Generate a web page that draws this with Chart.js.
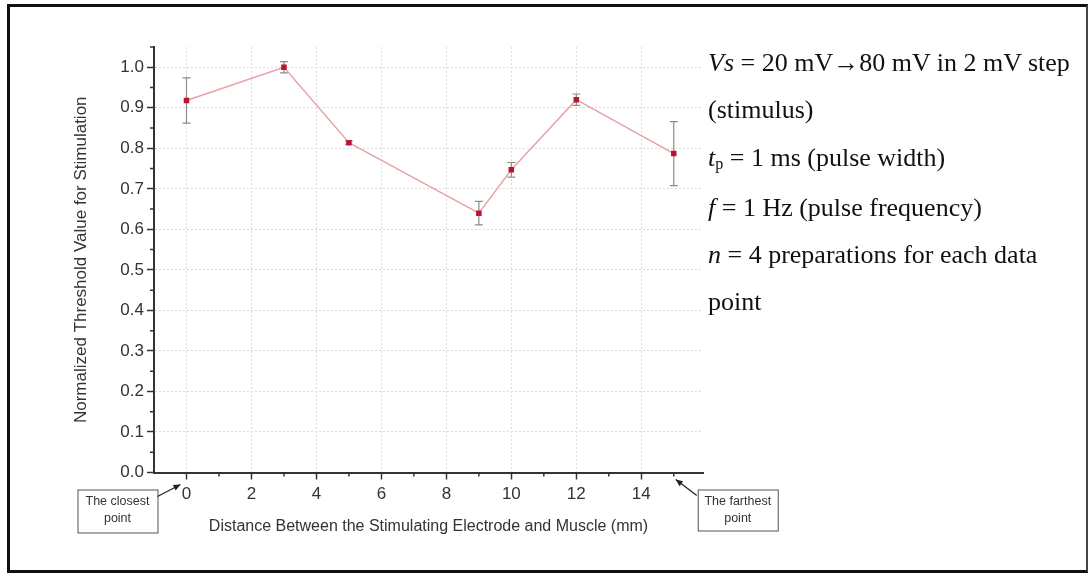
<!DOCTYPE html>
<html>
<head>
<meta charset="utf-8">
<script src="https://cdn.jsdelivr.net/npm/chart.js@4.4.1/dist/chart.umd.min.js"></script>
<style>
  html, body { margin: 0; padding: 0; background: #fff; }
  #wrap { position: relative; width: 1091px; height: 573px; overflow: hidden; background: #fff; }
  #frame {
    position: absolute; left: 7px; top: 4px; width: 1081px; height: 569px;
    box-sizing: border-box; border: 3px solid #111; border-right: 2px solid #444;
    pointer-events: none;
  }
  canvas { position: absolute; left: 0; top: 0; }
  #notes {
    position: absolute; left: 708px; top: 39px;
    font-family: "Liberation Serif", "Times New Roman", serif;
    font-size: 26px; line-height: 47.3px; color: #111; white-space: nowrap;
  }
  #notes .sub { font-size: 0.62em; position: relative; top: 0.2em; }
</style>
</head>
<body>
<div id="wrap">
  <canvas id="chart" width="1091" height="573"></canvas>
  <div id="notes">
    <div><i>Vs</i> = 20 mV→80 mV in 2 mV step</div>
    <div>(stimulus)</div>
    <div><i>t</i><span class="sub">p</span> = 1 ms (pulse width)</div>
    <div><i>f</i> = 1 Hz (pulse frequency)</div>
    <div><i>n</i> = 4 preparations for each data</div>
    <div>point</div>
  </div>
  <div id="frame"></div>
</div>
<script>
// data
const distances = [0, 3, 5, 9, 10, 12, 15];
const thresholds = [0.918, 1.0, 0.814, 0.640, 0.747, 0.920, 0.787];
const errors = [0.056, 0.014, 0.004, 0.029, 0.018, 0.014, 0.079];

// axis ticks
const xTickValues = [0, 2, 4, 6, 8, 10, 12, 14];
const xMinorTicks = [1, 3, 5, 7, 9, 11, 13, 15];
const yTickValues = [0.0, 0.1, 0.2, 0.3, 0.4, 0.5, 0.6, 0.7, 0.8, 0.9, 1.0];
const yMinorTicks = [0.05, 0.15, 0.25, 0.35, 0.45, 0.55, 0.65, 0.75, 0.85, 0.95, 1.05];

// callout boxes
const closestLabel = ['The closest', 'point'];
const farthestLabel = ['The farthest', 'point'];

const FONT = 'Arial, "Liberation Sans", sans-serif';

const errorBars = {
    id: 'errorBars',
    beforeDatasetsDraw(chart) {
        const { ctx, scales: { x, y } } = chart;
        ctx.save();
        ctx.strokeStyle = '#8c8c8c';
        ctx.lineWidth = 1.2;
        distances.forEach((d, i) => {
            const px = x.getPixelForValue(d);
            const top = y.getPixelForValue(thresholds[i] + errors[i]);
            const bot = y.getPixelForValue(thresholds[i] - errors[i]);
            ctx.beginPath();
            ctx.moveTo(px, top); ctx.lineTo(px, bot);
            ctx.moveTo(px - 4, top); ctx.lineTo(px + 4, top);
            ctx.moveTo(px - 4, bot); ctx.lineTo(px + 4, bot);
            ctx.stroke();
        });
        ctx.restore();
    }
};

const minorTicks = {
    id: 'minorTicks',
    afterDraw(chart) {
        const { ctx, chartArea, scales: { x, y } } = chart;
        ctx.save();
        ctx.strokeStyle = '#333';
        ctx.lineWidth = 1.5;
        ctx.beginPath();
        xMinorTicks.forEach(v => {
            const px = x.getPixelForValue(v);
            ctx.moveTo(px, chartArea.bottom);
            ctx.lineTo(px, chartArea.bottom + 4);
        });
        yMinorTicks.forEach(v => {
            const py = y.getPixelForValue(v);
            ctx.moveTo(chartArea.left - 4, py);
            ctx.lineTo(chartArea.left, py);
        });
        ctx.stroke();
        ctx.restore();
    }
};

function drawCallout(ctx, lines, box, tail, tip) {
    ctx.save();
    ctx.fillStyle = '#fff';
    ctx.fillRect(box.x, box.y, box.w, box.h);
    ctx.strokeStyle = '#555';
    ctx.lineWidth = 1;
    ctx.strokeRect(box.x + 0.5, box.y + 0.5, box.w, box.h);
    ctx.fillStyle = '#333';
    ctx.font = '12.5px ' + FONT;
    ctx.textAlign = 'center';
    ctx.textBaseline = 'middle';
    ctx.fillText(lines[0], box.x + box.w / 2, box.y + 12);
    ctx.fillText(lines[1], box.x + box.w / 2, box.y + 29);
    // arrow
    ctx.strokeStyle = '#222';
    ctx.lineWidth = 1.2;
    ctx.beginPath();
    ctx.moveTo(tail.x, tail.y);
    ctx.lineTo(tip.x, tip.y);
    ctx.stroke();
    const ang = Math.atan2(tip.y - tail.y, tip.x - tail.x);
    ctx.fillStyle = '#222';
    ctx.beginPath();
    ctx.moveTo(tip.x, tip.y);
    ctx.lineTo(tip.x - 7 * Math.cos(ang) + 3 * Math.sin(ang), tip.y - 7 * Math.sin(ang) - 3 * Math.cos(ang));
    ctx.lineTo(tip.x - 7 * Math.cos(ang) - 3 * Math.sin(ang), tip.y - 7 * Math.sin(ang) + 3 * Math.cos(ang));
    ctx.closePath();
    ctx.fill();
    ctx.restore();
}

const callouts = {
    id: 'callouts',
    afterDraw(chart) {
        const { ctx, chartArea, scales: { x } } = chart;
        const base = chartArea.bottom;
        const x0 = x.getPixelForValue(distances[0]);
        const xn = x.getPixelForValue(distances[distances.length - 1]);
        drawCallout(ctx, closestLabel,
            { x: x0 - 109, y: base + 17, w: 80, h: 43 },
            { x: x0 - 29, y: base + 24 },
            { x: x0 - 6, y: base + 12 });
        drawCallout(ctx, farthestLabel,
            { x: xn + 24, y: base + 17, w: 80, h: 41 },
            { x: xn + 23, y: base + 23 },
            { x: xn + 2, y: base + 7 });
    }
};

const ctx = document.getElementById('chart').getContext('2d');

new Chart(ctx, {
    type: 'line',
    data: {
        datasets: [{
            data: distances.map((d, i) => ({ x: d, y: thresholds[i] })),
            borderColor: '#e3a2a4',
            borderWidth: 1.4,
            pointStyle: 'rect',
            pointRadius: 3.9,
            pointBackgroundColor: '#bd1230',
            pointBorderColor: '#bd1230',
            pointBorderWidth: 0,
            tension: 0
        }]
    },
    options: {
        responsive: false,
        animation: false,
        layout: { padding: { left: 68, top: 47, right: 388, bottom: 33 } },
        plugins: {
            legend: { display: false },
            tooltip: { enabled: false }
        },
        scales: {
            x: {
                type: 'linear',
                min: -1,
                max: 15.9,
                afterBuildTicks: s => { s.ticks = xTickValues.map(v => ({ value: v })); },
                afterFit: s => { s.height = 67.5; },
                ticks: {
                    padding: 5,
                    color: '#333',
                    font: { family: FONT, size: 17 },
                    maxRotation: 0,
                    callback: v => String(v)
                },
                grid: {
                    color: '#dcdcdc',
                    lineWidth: 1,
                    tickLength: 7,
                    tickColor: '#333',
                    tickWidth: 1.5
                },
                border: { display: true, color: '#333', width: 2, dash: [2, 2] },
                title: {
                    display: true,
                    text: 'Distance Between the Stimulating Electrode and Muscle (mm)',
                    color: '#333',
                    font: { family: FONT, size: 16 },
                    padding: 4
                }
            },
            y: {
                min: 0,
                max: 1.05,
                afterBuildTicks: s => { s.ticks = yTickValues.map(v => ({ value: v })); },
                afterFit: s => { s.width = 86; },
                ticks: {
                    padding: 3,
                    color: '#333',
                    font: { family: FONT, size: 17 },
                    callback: v => v.toFixed(1)
                },
                grid: {
                    color: '#dcdcdc',
                    lineWidth: 1,
                    tickLength: 7,
                    tickColor: '#333',
                    tickWidth: 1.5
                },
                border: { display: true, color: '#333', width: 2, dash: [2, 2] },
                title: {
                    display: true,
                    text: 'Normalized Threshold Value for Stimulation',
                    color: '#333',
                    font: { family: FONT, size: 17 },
                    padding: 3
                }
            }
        }
    },
    plugins: [errorBars, minorTicks, callouts]
});
</script>
</body>
</html>
